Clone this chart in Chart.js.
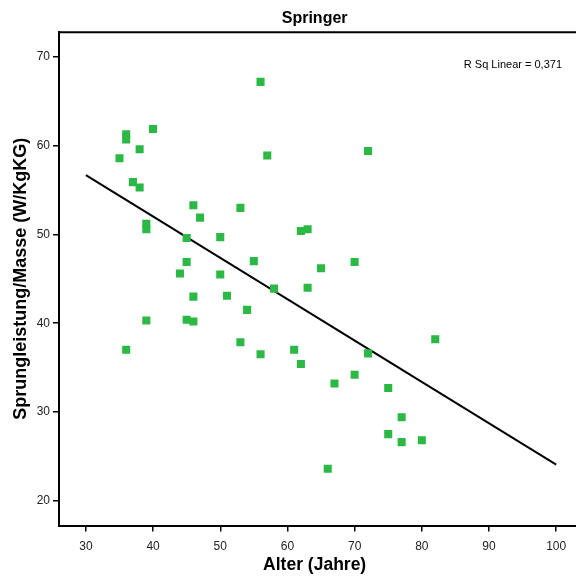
<!DOCTYPE html>
<html>
<head>
<meta charset="utf-8">
<script src="https://cdn.jsdelivr.net/npm/chart.js@4/dist/chart.umd.min.js"></script>
<style>
  html, body { margin: 0; padding: 0; background: #fff; }
  #wrap { width: 576px; height: 576px; }
</style>
</head>
<body>
<div id="wrap"><canvas id="myChart" width="576" height="576"></canvas></div>
<script>
//------Daten------
const ages = [56, 40, 36, 36, 38, 35, 57, 72, 37, 38, 39, 39, 46, 47, 53, 45,
  50, 62, 63, 45, 55, 65, 70, 44, 50, 58, 63, 46, 51, 54, 39, 45,
  46, 53, 56, 61, 36, 62, 72, 82, 70, 67, 75, 77, 75, 77, 80, 66];
const power = [67.2, 61.9, 61.3, 60.7, 59.6, 58.6, 58.9, 59.4, 55.9, 55.3, 51.2, 50.6, 53.3, 51.9, 53.0, 49.6,
  49.7, 50.4, 50.6, 46.9, 47.0, 46.2, 46.9, 45.6, 45.5, 43.9, 44.0, 43.0, 43.1, 41.5, 40.3, 40.4,
  40.2, 37.85, 36.5, 37.0, 37.0, 35.4, 36.6, 38.2, 34.2, 33.2, 32.7, 29.4, 27.5, 26.6, 26.8, 23.6];

// Regressionsgerade (Endpunkte aus dem Bild)
const fitX = [30, 100];
const fitY = [56.7, 24.05];

const xTicks = [30, 40, 50, 60, 70, 80, 90, 100];
const yTicks = [20, 30, 40, 50, 60, 70];
const rsqLabel = 'R Sq Linear = 0,371';
//-----------------

const ctx = document.getElementById('myChart').getContext('2d');
const fontName = '"Liberation Sans", Arial, Helvetica, sans-serif';

// obere Rahmenlinie (bis zum Rand) + untere Achse verlaengern + R Sq Text
const framePlugin = {
  id: 'frame',
  afterDraw(chart) {
    const a = chart.chartArea;
    const xb = chart.scales.x;
    const c = chart.ctx;
    c.save();
    c.strokeStyle = '#000';
    c.lineWidth = 2;
    c.beginPath();
    c.moveTo(a.left - 1, a.top);
    c.lineTo(chart.width, a.top);
    c.moveTo(a.right - 2, Math.round(xb.top));
    c.lineTo(chart.width, Math.round(xb.top));
    c.stroke();
    c.fillStyle = '#000';
    c.font = '11px ' + fontName;
    c.textAlign = 'right';
    c.textBaseline = 'middle';
    c.fillText(rsqLabel, 562, a.top + 33);
    c.restore();
  }
};

new Chart(ctx, {
  type: 'scatter',
  data: {
    datasets: [
      {
        label: 'Springer',
        data: ages.map((a, i) => ({ x: a, y: power[i] })),
        pointStyle: 'rect',
        pointRadius: 5.7,
        pointBackgroundColor: '#2cb844',
        pointBorderColor: '#2cb844',
        pointBorderWidth: 0,
        order: 1
      },
      {
        type: 'line',
        label: 'Fit',
        data: fitX.map((x, i) => ({ x: x, y: fitY[i] })),
        borderColor: '#000',
        borderWidth: 2,
        pointRadius: 0,
        fill: false,
        order: 2
      }
    ]
  },
  plugins: [framePlugin],
  options: {
    responsive: false,
    animation: false,
    layout: { padding: 0 },
    plugins: {
      legend: { display: false },
      tooltip: { enabled: false },
      title: {
        display: true,
        text: 'Springer',
        fullSize: false,
        color: '#000',
        font: { family: fontName, size: 16, weight: 'bold' },
        padding: { top: 9, bottom: 4 }
      }
    },
    scales: {
      x: {
        type: 'linear',
        min: 26,
        max: 102.1,
        afterBuildTicks: (axis) => { axis.ticks = xTicks.map(v => ({ value: v })); },
        afterFit: (axis) => { axis.height = 50.5; },
        border: { display: true, color: '#000', width: 2 },
        grid: { display: true, drawOnChartArea: false, drawTicks: true, tickLength: 6, color: '#000', lineWidth: 1.5 },
        ticks: { color: '#222', font: { family: fontName, size: 12 }, padding: 8, maxRotation: 0 },
        title: {
          display: true,
          text: 'Alter (Jahre)',
          color: '#000',
          font: { family: fontName, size: 17.5, weight: 'bold' },
          padding: { top: 0, bottom: 0 }
        }
      },
      y: {
        type: 'linear',
        min: 17.2,
        max: 72.8,
        afterBuildTicks: (axis) => { axis.ticks = yTicks.map(v => ({ value: v })); },
        afterFit: (axis) => { axis.width = 59; },
        border: { display: true, color: '#000', width: 2 },
        grid: { display: true, drawOnChartArea: false, drawTicks: true, tickLength: 6, color: '#000', lineWidth: 1.5 },
        ticks: { color: '#222', font: { family: fontName, size: 12 }, padding: 3 },
        title: {
          display: true,
          text: 'Sprungleistung/Masse (W/KgKG)',
          color: '#000',
          font: { family: fontName, size: 18, weight: 'bold' },
          padding: { top: 10, bottom: 0 }
        }
      }
    }
  }
});
</script>
</body>
</html>
